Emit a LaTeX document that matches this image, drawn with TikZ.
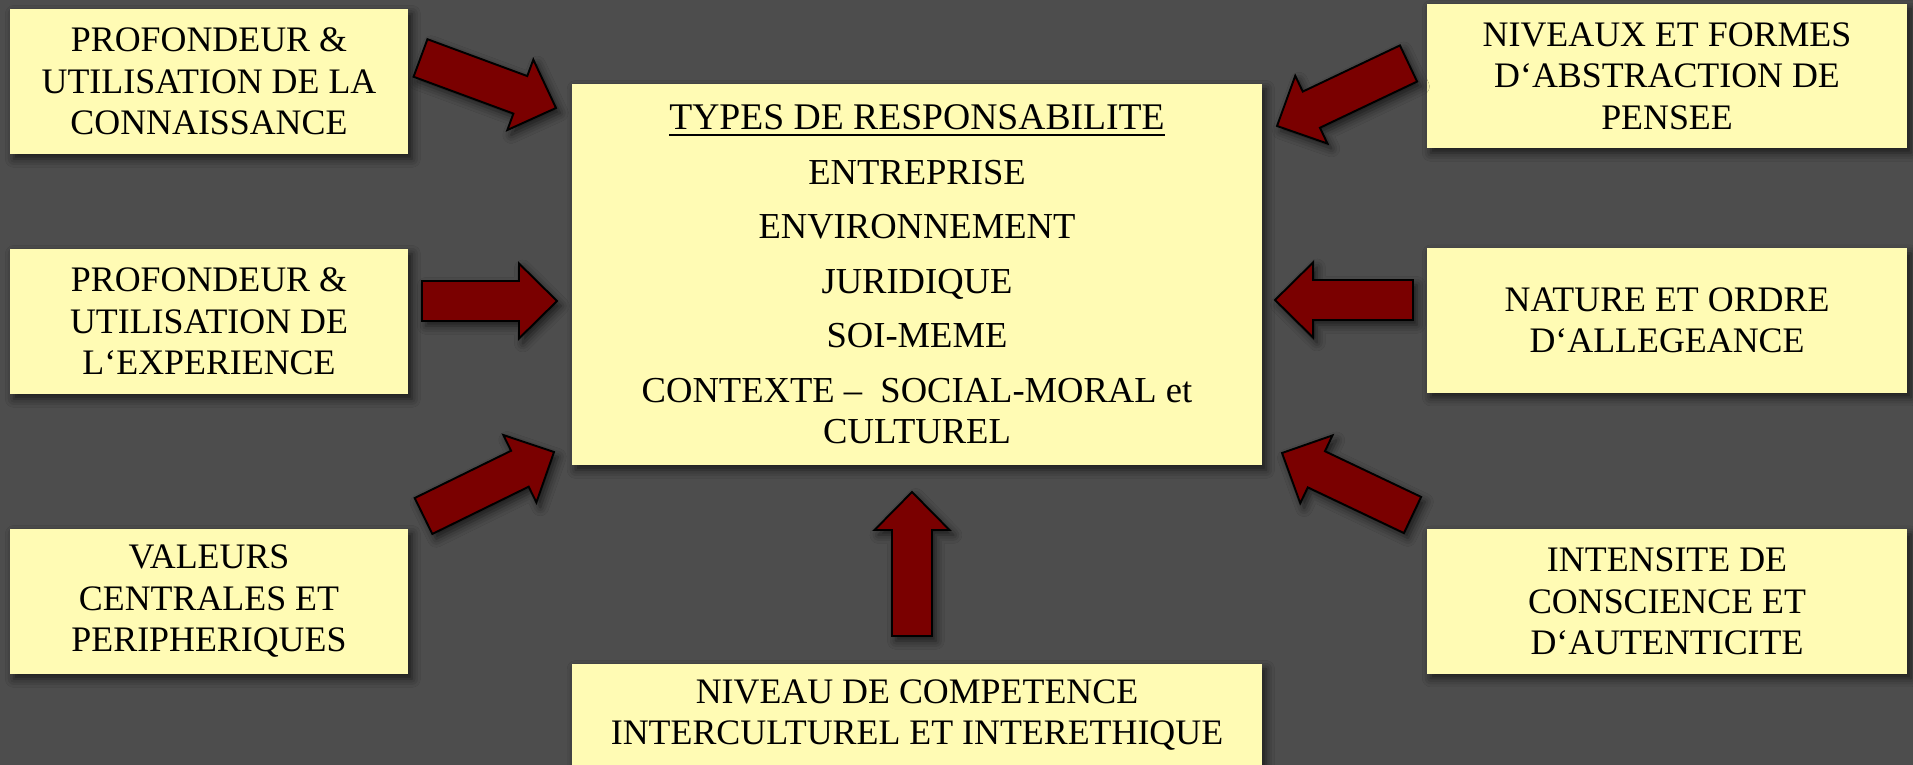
\documentclass[tikz,border=0pt]{standalone}
\usepackage{fontspec}
\setmainfont{Liberation Serif}
\usetikzlibrary{calc,shadows.blur}

\definecolor{slate}{HTML}{4D4D4D}
\definecolor{notefill}{HTML}{FFFBB4}
\definecolor{arrowred}{HTML}{7A0000}

\tikzset{
  softshadow/.style={blur shadow={shadow xshift=1.1pt, shadow yshift=-1.4pt,
      shadow blur radius=2.4pt, shadow opacity=65}},
  card/.style={fill=notefill, draw=none, inner sep=0pt, align=center,
      font=\fontsize{10.2}{11.8}\selectfont, softshadow},
  sidecard/.style={card, minimum width=3.98cm, minimum height=1.45cm},
  rightcard/.style={card, minimum width=4.80cm, minimum height=1.44cm},
  widecard/.style={card, minimum width=6.90cm},
  blockarrow/.style={fill=arrowred, draw=black, line width=0.55pt,
      line join=miter, softshadow},
}

% Block arrow from a tail centre #1 to a tip #2:
% shaft 0.4cm wide, head 0.75cm wide and 0.38cm long.
\newcommand{\BlockArrow}[2]{%
  \coordinate (hb) at ($(#2)!0.38cm!(#1)$);
  \path[blockarrow]
    ($(#1)!0.2cm!90:(#2)$) --
    ($(hb)!0.2cm!-90:(#1)$) --
    ($(hb)!0.375cm!-90:(#1)$) --
    (#2) --
    ($(hb)!0.375cm!90:(#1)$) --
    ($(hb)!0.2cm!90:(#1)$) --
    ($(#1)!0.2cm!-90:(#2)$) -- cycle;
}

\begin{document}
\begin{tikzpicture}[x=0.01cm, y=-0.01cm]
  \useasboundingbox (0,0) rectangle (1913,765);
  \clip (0,0) rectangle (1913,765);
  \fill[slate] (0,0) rectangle (1913,765);

  % central box
  \node[widecard, minimum height=3.81cm, font=\fontsize{10.4}{11.8}\selectfont] (core) at (917,274.5)
    {{\fontsize{10.7}{11.8}\selectfont\underline{TYPES DE RESPONSABILITE}}\\[3.7pt]
     ENTREPRISE\\[3.7pt]
     ENVIRONNEMENT\\[3.7pt]
     JURIDIQUE\\[3.7pt]
     SOI-MEME\\[3.7pt]
     CONTEXTE –~~SOCIAL-MORAL et\\
     CULTUREL};

  % left column
  \node[sidecard] (know) at (209,81.5)
    {PROFONDEUR \&\\UTILISATION DE LA\\CONNAISSANCE};
  \node[sidecard] (exper) at (209,321.5)
    {PROFONDEUR \&\\UTILISATION DE\\L‘EXPERIENCE};
  \node[sidecard] (values) at (209,601.5)
    {VALEURS\\CENTRALES ET\\PERIPHERIQUES};

  % right column
  \node[rightcard] (abstr) at (1667,76)
    {NIVEAUX ET FORMES\\D‘ABSTRACTION DE\\PENSEE};
  \node[rightcard] (alleg) at (1667,320.5)
    {NATURE ET ORDRE\\D‘ALLEGEANCE};
  \node[rightcard] (consc) at (1667,601.5)
    {INTENSITE DE\\CONSCIENCE ET\\D‘AUTENTICITE};

  % bottom box
  \node[widecard, minimum height=1.02cm] (compet) at (917,715)
    {NIVEAU DE COMPETENCE\\INTERCULTUREL ET INTERETHIQUE};

  % arrow ends
  \coordinate (knowT) at (420.5,58);   \coordinate (knowH) at (556,108);
  \coordinate (experT) at (422,301);   \coordinate (experH) at (557,301);
  \coordinate (valuesT) at (423.5,516);\coordinate (valuesH) at (554,452);
  \coordinate (abstrT) at (1408.5,63.5);\coordinate (abstrH) at (1277,126);
  \coordinate (allegT) at (1413,300);  \coordinate (allegH) at (1275,300);
  \coordinate (conscT) at (1412.5,515);\coordinate (conscH) at (1282,453);
  \coordinate (competT) at (912,636);  \coordinate (competH) at (912,492);

  \BlockArrow{knowT}{knowH}
  \BlockArrow{experT}{experH}
  \BlockArrow{valuesT}{valuesH}
  \BlockArrow{abstrT}{abstrH}
  \BlockArrow{allegT}{allegH}
  \BlockArrow{conscT}{conscH}
  \BlockArrow{competT}{competH}
\end{tikzpicture}
\end{document}
